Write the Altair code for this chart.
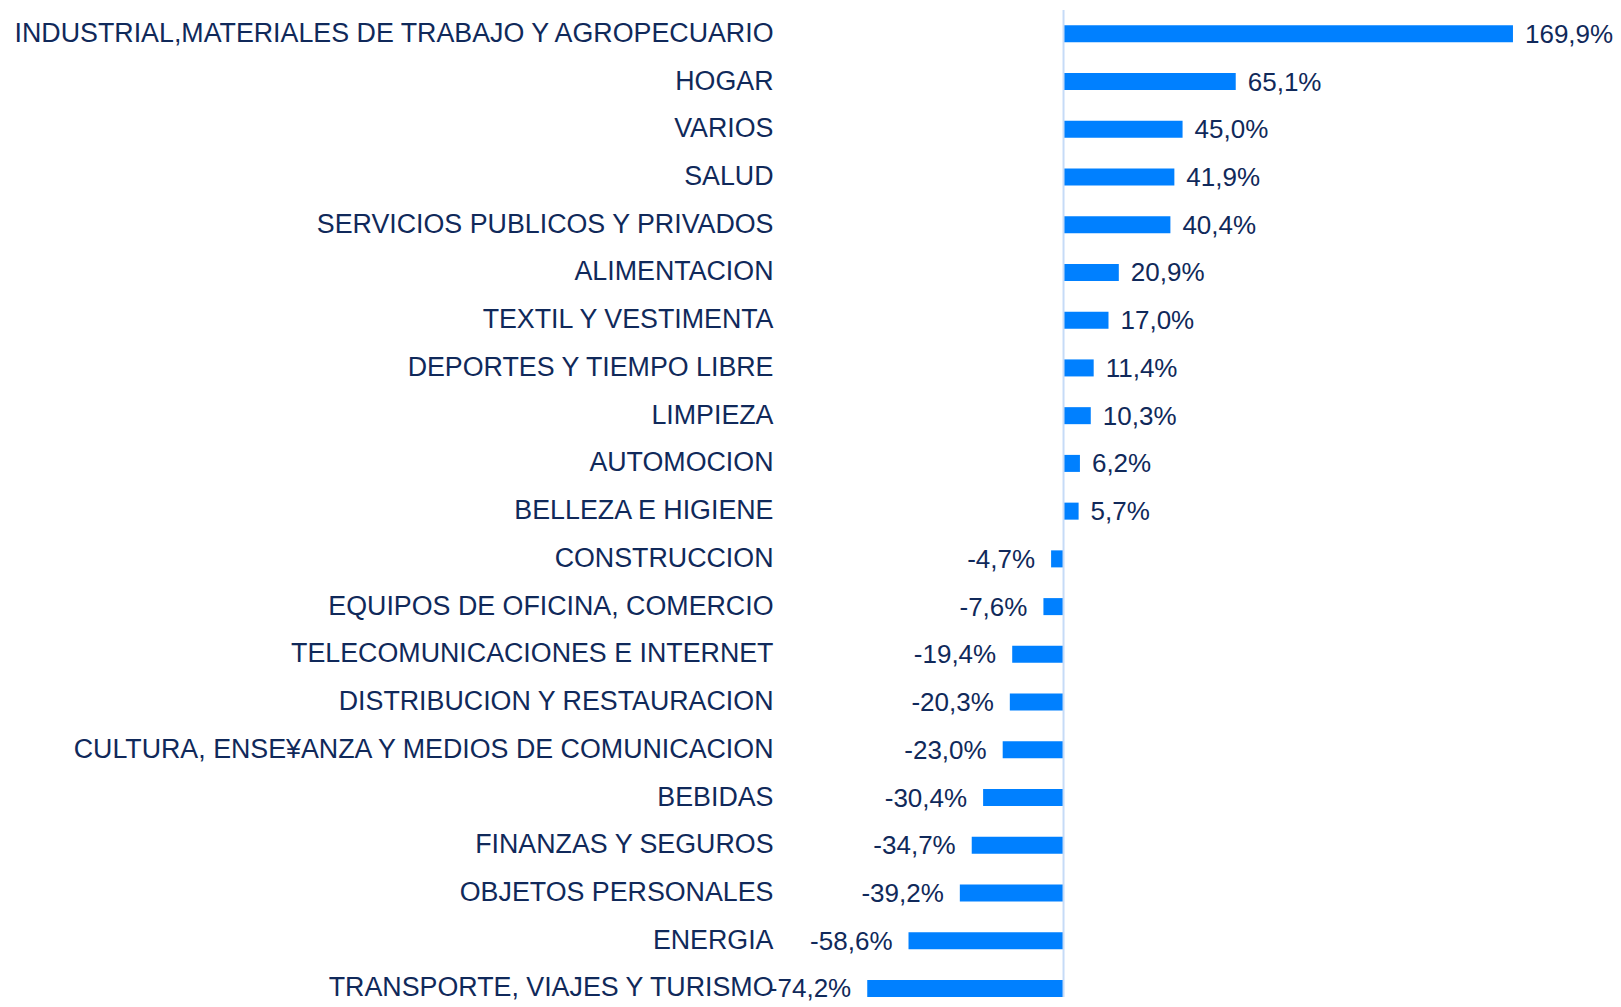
import altair as alt
import pandas as pd

categories = [
    "INDUSTRIAL,MATERIALES DE TRABAJO Y AGROPECUARIO",
    "HOGAR",
    "VARIOS",
    "SALUD",
    "SERVICIOS PUBLICOS Y PRIVADOS",
    "ALIMENTACION",
    "TEXTIL Y VESTIMENTA",
    "DEPORTES Y TIEMPO LIBRE",
    "LIMPIEZA",
    "AUTOMOCION",
    "BELLEZA E HIGIENE",
    "CONSTRUCCION",
    "EQUIPOS DE OFICINA, COMERCIO",
    "TELECOMUNICACIONES E INTERNET",
    "DISTRIBUCION Y RESTAURACION",
    "CULTURA, ENSE¥ANZA Y MEDIOS DE COMUNICACION",
    "BEBIDAS",
    "FINANZAS Y SEGUROS",
    "OBJETOS PERSONALES",
    "ENERGIA",
    "TRANSPORTE, VIAJES Y TURISMO",
]
values = [169.9, 65.1, 45.0, 41.9, 40.4, 20.9, 17.0, 11.4, 10.3, 6.2, 5.7,
          -4.7, -7.6, -19.4, -20.3, -23.0, -30.4, -34.7, -39.2, -58.6, -74.2]

df = pd.DataFrame({"cat": categories, "val": values})
df["label"] = [f"{v:.1f}%".replace(".", ",") for v in values]

FONT = "Liberation Sans, Arial, sans-serif"
TXT = "#10295a"
BAR = "#0080ff"
FS = 26.8
VFS = 26

xs = alt.X("val:Q", scale=alt.Scale(domain=[-103.4, 202.8], nice=False, zero=False), axis=None)
ys = alt.Y("cat:N", sort=categories, title=None,
           scale=alt.Scale(paddingInner=0.6435, paddingOuter=0.16, align=1),
           axis=alt.Axis(domain=False, ticks=False, labelPadding=17, labelLimit=1200,
                         labelFontSize=FS, labelFont=FONT, labelColor=TXT, grid=False))

base = alt.Chart(df)

bars = base.mark_bar(color=BAR).encode(x=xs, x2=alt.datum(0), y=ys)

pos = base.transform_filter("datum.val >= 0").mark_text(
    align="left", baseline="middle", dx=12, dy=1, fontSize=VFS, font=FONT, color=TXT
).encode(x="val:Q", y=alt.Y("cat:N", sort=categories), text="label:N")

neg = base.transform_filter("datum.val < 0").mark_text(
    align="right", baseline="middle", dx=-16, dy=1, fontSize=VFS, font=FONT, color=TXT
).encode(x="val:Q", y=alt.Y("cat:N", sort=categories), text="label:N")

rule = alt.Chart(pd.DataFrame({"z": [0]})).mark_rule(color="#c6dbf7", strokeWidth=2).encode(
    x=alt.X("z:Q")
)

chart = alt.layer(bars, rule, pos, neg).properties(
    width=810, height=987,
    autosize=alt.AutoSizeParams(type="none"),
    padding={"left": 782, "top": 2, "right": 13, "bottom": 12},
).configure(background="white").configure_view(strokeWidth=0, stroke="transparent")

chart.save("out.html", embed_options={"renderer": "svg", "actions": False})
